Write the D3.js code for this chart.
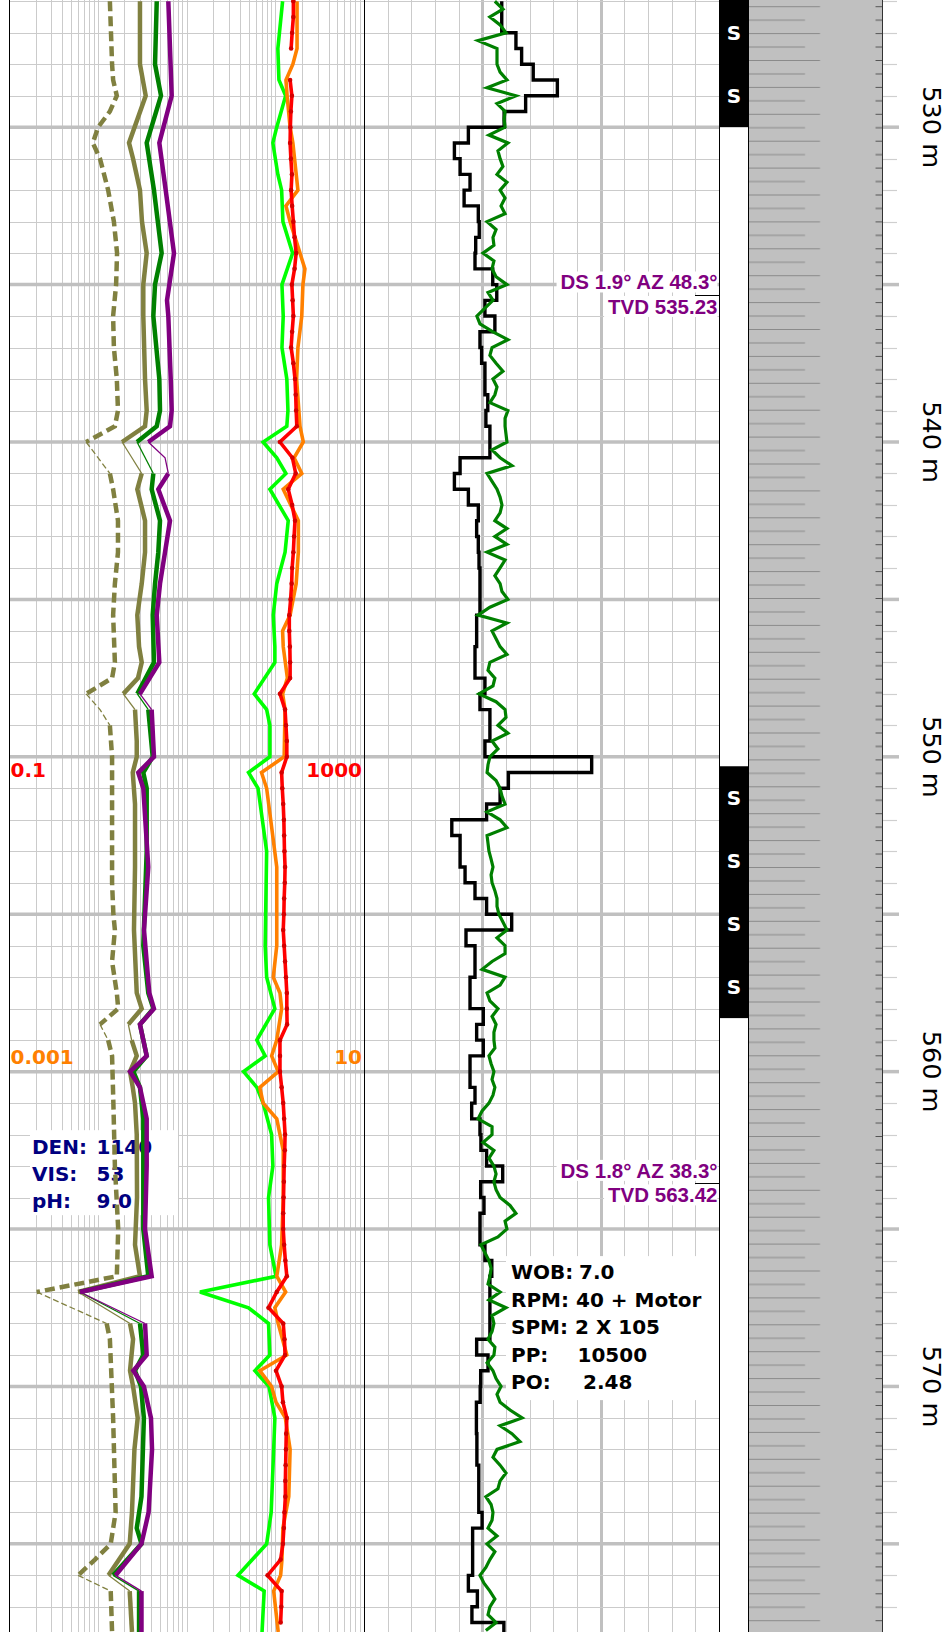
<!DOCTYPE html>
<html>
<head>
<meta charset="utf-8">
<script src="https://cdn.jsdelivr.net/npm/d3@7"></script>
<style>
html,body{margin:0;padding:0;background:#fff;}
svg{display:block;}
</style>
</head>
<body>
<script>
// ---------------- DATA ----------------
const depthStart = 525.96, depthEnd = 577.80;
const depthLabels = [530, 540, 550, 560, 570];
const logTrackDomain = [0.1, 1000];
const linTrackDomain = [0, 150];

// Track 1 gas curves: [depth (m), value]
const tgDashed = [[526.0,1.37],[527.0,1.41],[528.0,1.45],[528.5,1.49],[529.0,1.64],[529.5,1.37],[530.0,1.01],[530.5,0.88],[531.0,1.06],[532.0,1.31],[533.0,1.52],[534.0,1.65],[535.0,1.61],[536.0,1.49],[537.0,1.52],[538.0,1.64],[539.0,1.69],[539.5,1.56],[540.0,0.74],[541.0,1.37],[541.5,1.49],[542.5,1.69],[543.5,1.69],[544.5,1.56],[545.5,1.49],[547.0,1.56],[547.5,1.45],[548.0,0.74],[548.5,1.06],[549.0,1.37],[550.0,1.45],[552.0,1.45],[554.0,1.45],[555.0,1.50],[555.5,1.56],[556.5,1.45],[557.5,1.64],[558.0,1.70],[558.5,1.06],[559.0,1.31],[559.5,1.45],[561.0,1.50],[563.0,1.56],[565.0,1.70],[566.5,1.64],[567.0,0.205],[568.0,1.26],[568.5,1.37],[571.0,1.49],[574.0,1.59],[575.0,1.40],[575.5,0.93],[576.0,0.60],[576.5,1.40],[577.8,1.45]];
const tgSolid = [[526.0,2.99],[528.0,2.99],[529.0,3.47],[530.5,2.25],[531.0,2.50],[532.0,2.99],[533.0,3.15],[534.0,3.56],[535.0,3.26],[536.0,3.26],[538.0,3.41],[539.0,3.56],[539.5,3.41],[540.0,1.88],[541.0,3.13],[541.5,2.79],[542.5,3.41],[543.5,3.41],[544.5,3.13],[545.5,2.79],[546.5,2.92],[547.0,3.13],[547.5,2.84],[548.0,1.94],[548.5,2.63],[549.5,2.75],[550.0,2.75],[550.5,2.48],[551.5,2.63],[553.5,2.63],[555.5,2.56],[557.5,2.75],[558.0,3.13],[558.5,2.21],[559.0,2.41],[559.5,2.75],[560.0,2.31],[560.5,2.48],[561.0,2.63],[562.0,2.75],[564.0,2.77],[565.5,2.63],[566.5,2.99],[567.0,0.60],[568.0,2.31],[568.5,2.50],[569.5,2.31],[570.0,2.50],[571.0,2.82],[572.0,2.59],[574.0,2.43],[575.0,2.29],[576.0,1.32],[576.5,2.29],[577.8,2.43]];
const c1Green = [[526.0,4.62],[528.0,4.42],[529.0,5.16],[530.5,3.56],[532.0,4.30],[534.0,5.25],[535.0,4.42],[536.0,4.23],[538.0,4.94],[539.0,5.03],[539.5,4.62],[540.0,2.77],[541.0,4.23],[541.5,4.05],[542.5,5.03],[543.5,4.81],[544.5,4.42],[545.5,4.16],[547.0,4.30],[548.0,2.79],[548.5,3.71],[550.0,4.16],[550.5,3.26],[551.0,3.56],[553.0,3.56],[556.0,3.26],[557.5,3.71],[558.0,4.23],[558.5,2.99],[559.5,3.56],[560.0,2.52],[560.5,2.99],[561.5,3.26],[565.0,3.26],[566.5,3.71],[567.0,0.63],[568.0,2.99],[569.0,3.26],[569.5,2.63],[570.0,3.07],[571.0,3.31],[573.5,3.11],[574.5,2.75],[575.0,3.11],[576.0,1.49],[576.5,2.92],[577.8,2.92]];
const c2Purple = [[526.0,6.24],[529.0,6.81],[530.5,4.94],[532.0,5.83],[534.0,7.23],[535.5,6.03],[536.0,6.24],[538.0,6.64],[539.0,6.81],[539.5,6.52],[540.0,3.71],[540.5,5.73],[541.0,6.24],[541.5,4.81],[542.5,6.52],[543.5,5.73],[544.5,5.03],[545.5,4.62],[547.0,4.94],[548.0,2.99],[548.5,4.05],[550.0,4.30],[550.5,2.86],[551.0,3.26],[553.5,3.71],[555.5,3.32],[557.5,3.81],[558.0,4.30],[558.5,2.99],[559.5,3.56],[560.0,2.31],[560.5,2.99],[561.5,3.56],[563.0,3.56],[565.0,3.41],[566.5,4.05],[567.0,0.63],[568.0,3.41],[569.0,3.56],[569.5,2.52],[570.0,3.31],[571.0,3.98],[572.0,4.09],[574.0,3.74],[575.0,3.11],[576.0,1.59],[576.5,3.11],[577.8,3.11]];
const c3Lime = [[526.0,121],[527.5,107],[528.5,110],[529.0,131],[530.0,104],[530.5,94],[531.5,107],[532.0,118],[533.0,122],[534.0,157],[535.0,119],[536.0,123],[537.0,119],[538.0,135],[539.0,139],[539.5,135],[540.0,73],[540.5,104],[541.0,132],[541.5,87],[542.5,140],[543.5,129],[544.5,104],[545.5,95],[546.5,99],[547.0,99],[548.0,58],[548.5,80],[549.0,87],[550.0,87],[550.5,50],[551.0,64],[553.0,80],[556.0,77],[557.0,80],[558.0,99],[559.0,62],[559.5,77],[560.0,44],[560.5,62],[561.0,73],[562.0,91],[563.0,94],[564.0,84],[565.5,87],[566.5,102],[567.0,14.2],[567.5,50],[568.0,84],[569.0,87],[569.5,59],[570.0,85],[571.0,99],[572.0,96],[574.0,90],[575.0,80],[576.0,38],[576.5,75],[577.8,71]];
const c4Orange = [[526.0,176],[527.5,176],[528.0,158],[528.5,132],[529.0,136],[530.0,147],[530.5,158],[532.0,180],[532.5,132],[533.0,147],[534.0,190],[534.5,216],[535.0,205],[536.0,199],[537.0,180],[538.0,174],[539.5,190],[540.0,207],[540.5,163],[541.0,199],[541.5,123],[542.5,182],[543.5,182],[544.5,172],[545.5,147],[546.0,121],[546.5,123],[547.5,137],[548.0,121],[548.5,129],[550.0,126],[550.5,70],[551.0,80],[553.5,104],[556.0,104],[557.0,95],[557.5,113],[558.0,118],[559.0,104],[559.5,91],[560.0,108],[560.5,67],[561.0,73],[561.5,104],[562.5,123],[564.0,123],[565.5,118],[566.5,104],[567.0,131],[567.5,99],[568.0,108],[569.0,135],[569.5,67],[570.0,91],[570.5,102],[571.0,130],[572.0,147],[573.5,142],[574.5,122],[575.5,119],[576.0,115],[576.5,96],[577.8,108]];
const c5Red = [[526.0,160],[526.5,160],[527.0,155],[527.5,151],[528.0,null],[528.5,147],[529.0,154],[529.5,150],[530.0,148],[530.5,147],[531.0,150],[531.5,154],[532.0,151],[532.5,155],[533.0,160],[533.5,165],[534.0,172],[534.5,165],[535.0,154],[535.5,157],[536.0,160],[536.5,155],[537.0,151],[537.5,160],[538.0,167],[538.5,170],[539.0,172],[539.5,175],[540.0,113],[540.5,156],[541.0,170],[541.5,140],[542.0,155],[542.5,167],[543.0,163],[543.5,160],[544.0,155],[544.5,153],[545.0,149],[545.5,144],[546.0,144],[546.5,146],[547.0,147],[547.5,147],[548.0,113],[548.5,129],[549.0,132],[549.5,135],[550.0,135],[550.5,118],[551.0,120],[551.5,123],[552.0,125],[552.5,126],[553.0,127],[553.5,129],[554.0,128],[554.5,126],[555.0,125],[555.5,123],[556.0,126],[556.5,129],[557.0,132],[557.5,135],[558.0,135],[558.5,136],[559.0,113],[559.5,113],[560.0,113],[560.5,118],[561.0,123],[561.5,126],[562.0,129],[562.5,128],[563.0,126],[563.5,125],[564.0,124],[564.5,123],[565.0,123],[565.5,126],[566.0,130],[566.5,135],[567.0,104],[567.5,84],[568.0,123],[568.5,127],[569.0,129],[569.5,102],[570.0,118],[570.5,122],[571.0,135],[571.5,133],[572.0,132],[572.5,131],[573.0,130],[573.5,130],[574.0,127],[574.5,125],[575.0,122],[575.5,115],[576.0,82],[576.5,118],[577.0,117],[577.5,115]];
// depth intervals where the left-group curves are drawn thin
const thinIntervals = [[540.0,541.0],[548.0,549.0],[558.5,559.0],[567.0,568.0],[576.0,576.5]];

// Track 2: ROP (step, 0.5 m) and torque (0.25 m)
const ropStart = 526.0, ropStep = 0.5;
const ropValues = [58.2,58.2,64.2,66.6,71.5,81.7,68.3,59.2,44.1,38.2,
40.6,44.8,42.3,48.3,48.7,47.2,46.9,54.4,56.1,51.1,
55.3,49.0,49.7,51.1,51.1,52.3,51.5,53.2,53.2,40.6,
38.2,44.1,48.3,47.6,48.3,48.6,49.0,49.0,49.0,47.6,
47.6,46.9,46.9,51.1,49.0,53.2,53.2,51.1,96.2,61.0,
57.5,51.8,37.1,40.6,40.6,42.7,46.9,51.8,62.4,43.1,
46.9,46.9,44.8,44.8,50.4,47.6,50.4,44.8,44.8,46.9,
45.5,49.0,49.4,51.8,58.6,49.3,50.7,49.0,49.0,51.1,
54.0,53.2,53.2,53.2,53.2,47.6,52.4,49.3,49.1,47.5,
47.5,47.7,47.7,48.5,48.5,48.5,49.9,45.9,45.9,45.9,
44.1,47.9,45.6,59.1];
const torqueStart = 526.0, torqueStep = 0.25;
const torqueValues = [55.3,58.7,53.2,57.5,60.0,48.2,56.2,56.2,56.2,57.5,60.4,52.0,64.2,56.2,59.6,59.2,59.6,52.8,60.8,56.6,57.5,58.7,56.2,60.4,57.5,59.6,57.9,59.6,52.0,55.8,54.5,54.9,50.3,54.9,54.1,55.8,60.4,52.4,
54.5,51.1,47.7,49.0,54.5,60.8,54.1,53.2,55.8,58.7,54.5,56.2,55.3,53.2,60.8,59.6,59.6,60.0,60.4,54.1,57.5,62.5,52.0,54.1,56.2,57.5,58.3,57.5,55.3,60.4,55.3,60.4,52.0,59.6,57.5,55.3,57.5,58.3,60.8,53.2,48.2,60.4,54.1,55.8,57.5,60.4,53.2,52.4,55.3,54.5,48.6,
55.8,59.6,60.0,56.6,60.8,54.1,56.6,53.2,52.4,52.0,55.8,57.5,58.3,59.6,52.0,57.5,60.4,52.0,52.4,52.8,53.7,54.5,53.7,54.1,55.3,56.2,56.2,57.0,58.7,60.4,56.2,59.6,59.6,54.1,49.9,59.6,57.5,52.0,53.2,56.6,54.1,55.8,54.9,54.9,55.3,52.8,53.7,54.9,54.1,55.3,54.5,52.8,49.9,48.2,54.1,54.1,50.3,54.9,52.8,54.9,55.8,54.9,55.8,57.5,61.7,64.2,
59.6,60.4,56.6,49.4,51.1,52.8,53.7,53.2,52.4,57.5,52.8,60.0,54.1,54.9,54.1,52.4,55.3,54.9,52.0,54.5,55.8,57.9,
56.2,57.5,61.7,66.8,57.5,62.5,65.9,56.2,54.5,57.5,60.0,57.5,56.6,51.5,53.7,54.5,54.1,52.4,56.2,52.0,55.3,53.2,51.5,49.0,50.7,53.2,55.3,53.2,52.4,55.8,51.5];

// Track 3 sample intervals (S marks every 2 m)
const sampleIntervals = [[524.0,530.0],[550.3,558.3]];
const sampleMarkSpacing = 2;

// Surveys
const surveyMD = [535.33, 563.55];
const surveyDS = ["1.9", "1.8"];
const surveyAZ = ["48.3", "38.3"];
const surveyTVD = ["535.23", "563.42"];

// Mud and drilling parameter boxes
const mudDepth = 561.86;
const mudLabels = ["DEN:", "VIS:", "pH:"];
const mudValues = ["1140", "53", "9.0"];
const drillDepth = 565.86;
const drillLabels = ["WOB:", "RPM:", "SPM:", "PP:", "PO:"];
const drillValues = ["7.0", "40 + Motor", "2 X 105", "10500", "2.48"];

// scale captions in track 1
const scaleCaptionDepths = [550.65, 559.76];
const scaleCaptionLeft = ["0.1", "0.001"];
const scaleCaptionRight = ["1000", "10"];
const scaleCaptionColors = ["#ff0000", "#ff8000"];

// ---------------- LAYOUT ----------------
const W = 947, H = 1632;
const T1 = [9, 364], T2 = [364, 719], T3 = [719, 748], T4 = [748, 882.5];
const svg = d3.select("body").append("svg").attr("width", W).attr("height", H);
const y = d3.scaleLinear().domain([depthStart, depthEnd]).range([0, H]);
const x1 = d3.scaleLog().domain(logTrackDomain).range(T1);
const x2 = d3.scaleLinear().domain(linTrackDomain).range(T2);
const crisp = v => Math.round(v) + 0.5;
const SANS = "'DejaVu Sans', Verdana, sans-serif";

const gridColor = "#cbcbcb", heavyColor = "#c0c0c0";
const gGrid = svg.append("g");
// track 1 verticals (log)
const t1ticks = x1.ticks().filter(v => v > logTrackDomain[0] && v < logTrackDomain[1]);
gGrid.selectAll(null).data(t1ticks).enter().append("line")
  .attr("x1", d => crisp(x1(d))).attr("x2", d => crisp(x1(d)))
  .attr("y1", 0).attr("y2", H).attr("stroke", gridColor).attr("stroke-width", 1);
// track 2 verticals
const t2ticks = x2.ticks(15).filter(v => v > linTrackDomain[0] && v < linTrackDomain[1]);
gGrid.selectAll(null).data(t2ticks).enter().append("line")
  .attr("x1", d => crisp(x2(d))).attr("x2", d => crisp(x2(d)))
  .attr("y1", 0).attr("y2", H)
  .attr("stroke", d => d % 50 === 0 ? heavyColor : gridColor)
  .attr("stroke-width", d => d % 50 === 0 ? 3 : 1);
// horizontals
const gridDepths = d3.range(Math.ceil(depthStart), Math.floor(depthEnd) + 1);
gGrid.selectAll(null).data(gridDepths).enter().append("line")
  .attr("x1", T1[0]).attr("x2", T2[1])
  .attr("y1", d => d % 5 === 0 ? y(d) : crisp(y(d))).attr("y2", d => d % 5 === 0 ? y(d) : crisp(y(d)))
  .attr("stroke", d => d % 5 === 0 ? heavyColor : gridColor)
  .attr("stroke-width", d => d % 5 === 0 ? 3.5 : 1);

// ---------- Track 3 ----------
const gT3 = svg.append("g");
gT3.append("rect").attr("x", T3[0] + 0.5).attr("y", -2).attr("width", T3[1] - T3[0]).attr("height", H + 4)
  .attr("fill", "#fff").attr("stroke", "#000").attr("stroke-width", 1);
gT3.selectAll(null).data(sampleIntervals).enter().append("rect")
  .attr("x", T3[0]).attr("width", T3[1] - T3[0] + 0.5)
  .attr("y", d => y(d[0])).attr("height", d => y(d[1]) - y(d[0])).attr("fill", "#000");
const sMarks = [];
sampleIntervals.forEach(([a, b]) => {
  for (let d = a + sampleMarkSpacing / 2; d < b; d += sampleMarkSpacing) {
    if (y(d) > 12 && y(d) < H - 12) sMarks.push(d);
  }
});
gT3.selectAll(null).data(sMarks).enter().append("text")
  .attr("x", (T3[0] + T3[1]) / 2 + 0.5).attr("y", d => y(d) + 7)
  .attr("text-anchor", "middle").attr("fill", "#fff")
  .attr("font-family", SANS).attr("font-weight", "bold").attr("font-size", 20)
  .text("S");

// ---------- Track 4 (lithology, grey with dashes) ----------
const defs = svg.append("defs");
const patH = 26.9, patW = T4[1] - T4[0];
const pat = defs.append("pattern").attr("id", "lith").attr("patternUnits", "userSpaceOnUse")
  .attr("x", T4[0]).attr("y", 6.2).attr("width", patW).attr("height", patH);
pat.append("rect").attr("width", patW).attr("height", patH).attr("fill", "#c0c0c0");
pat.append("line").attr("x1", 0).attr("x2", 72).attr("y1", 0.5).attr("y2", 0.5).attr("stroke", "#8a8a8a").attr("stroke-width", 1);
pat.append("line").attr("x1", 0).attr("x2", 57).attr("y1", patH / 2 + 0.5).attr("y2", patH / 2 + 0.5).attr("stroke", "#8a8a8a").attr("stroke-width", 1);
pat.append("line").attr("x1", patW - 7).attr("x2", patW).attr("y1", 0.5).attr("y2", 0.5).attr("stroke", "#555").attr("stroke-width", 1);
pat.append("line").attr("x1", patW - 7).attr("x2", patW).attr("y1", patH / 2 + 0.5).attr("y2", patH / 2 + 0.5).attr("stroke", "#555").attr("stroke-width", 1);
svg.append("rect").attr("x", T4[0]).attr("y", 0).attr("width", patW).attr("height", H).attr("fill", "url(#lith)");

// ---------- Depth track ----------
const gDepth = svg.append("g");
gDepth.selectAll(null).data(gridDepths).enter().append("line")
  .attr("x1", T4[1]).attr("x2", d => d % 5 === 0 ? 899 : 897)
  .attr("y1", d => d % 5 === 0 ? y(d) : crisp(y(d))).attr("y2", d => d % 5 === 0 ? y(d) : crisp(y(d)))
  .attr("stroke", d => d % 5 === 0 ? heavyColor : "#cfcfcf")
  .attr("stroke-width", d => d % 5 === 0 ? 3.5 : 1.2);
gDepth.selectAll(null).data(depthLabels).enter().append("text")
  .attr("transform", d => `translate(923,${y(d)}) rotate(90)`)
  .attr("text-anchor", "middle").attr("fill", "#000")
  .attr("font-family", SANS).attr("font-size", 25.5)
  .text(d => `${d} m`);

// ---------- Annotations ----------
const gAnn = svg.append("g");
// surveys
surveyMD.forEach((md, i) => {
  const yy = y(md);
  const lines = [`DS ${surveyDS[i]}° AZ ${surveyAZ[i]}°`, `TVD ${surveyTVD[i]}`];
  const offs = [-5.5, 19];
  lines.forEach((t, j) => {
    const g = gAnn.append("g");
    const r = g.append("rect").attr("fill", "#fff");
    const tx = g.append("text").attr("x", T2[1] - 1.5).attr("y", yy + offs[j])
      .attr("text-anchor", "end").attr("fill", "#800080")
      .attr("font-family", "'Liberation Sans', Arial, sans-serif").attr("font-weight", "bold").attr("font-size", 20.5)
      .text(t);
    const bb = tx.node().getBBox();
    r.attr("x", bb.x - 4).attr("y", bb.y + 1).attr("width", bb.width + 4).attr("height", bb.height - 2);
  });
  gAnn.append("line").attr("x1", 695).attr("x2", T2[1]).attr("y1", crisp(yy)).attr("y2", crisp(yy))
    .attr("stroke", "#000").attr("stroke-width", 1);
});
// mud box
{
  const top = y(mudDepth);
  gAnn.append("rect").attr("x", 30).attr("y", top).attr("width", 148).attr("height", 85).attr("fill", "#fff");
  mudLabels.forEach((l, i) => {
    const base = top + 24 + i * 27;
    gAnn.append("text").attr("x", 32).attr("y", base).attr("fill", "#000080")
      .attr("font-family", SANS).attr("font-weight", "bold").attr("font-size", 20).text(l);
    gAnn.append("text").attr("x", 96.5).attr("y", base).attr("fill", "#000080")
      .attr("font-family", SANS).attr("font-weight", "bold").attr("font-size", 20).text(mudValues[i]);
  });
}
// drilling parameters box
{
  const top = y(drillDepth);
  const valX = [579, 576, 575, 577.5, 583];
  gAnn.append("rect").attr("x", 506).attr("y", top).attr("width", T2[1] - 506).attr("height", 144).attr("fill", "#fff");
  drillLabels.forEach((l, i) => {
    const base = top + 23 + i * 27.5;
    gAnn.append("text").attr("x", 511).attr("y", base).attr("fill", "#000")
      .attr("font-family", SANS).attr("font-weight", "bold").attr("font-size", 20).text(l);
    gAnn.append("text").attr("x", valX[i]).attr("y", base).attr("fill", "#000")
      .attr("font-family", SANS).attr("font-weight", "bold").attr("font-size", 20).text(drillValues[i]);
  });
}
// scale captions
scaleCaptionDepths.forEach((d, i) => {
  const base = y(d);
  gAnn.append("text").attr("x", T1[0] + 1.5).attr("y", base).attr("fill", scaleCaptionColors[i])
    .attr("font-family", SANS).attr("font-weight", "bold").attr("font-size", 20).text(scaleCaptionLeft[i]);
  gAnn.append("text").attr("x", T1[1] - 2).attr("y", base).attr("text-anchor", "end").attr("fill", scaleCaptionColors[i])
    .attr("font-family", SANS).attr("font-weight", "bold").attr("font-size", 20).text(scaleCaptionRight[i]);
});

// ---------- Curves track 1 ----------
const gC = svg.append("g");
const isThinSeg = (a, b) => thinIntervals.some(([s, e]) => a[0] >= s - 1e-6 && b[0] <= e + 1e-6);
function drawCurve(data, xs, o) {
  const line = d3.line().defined(d => d[1] != null).x(d => xs(d[1])).y(d => y(d[0]));
  const style = (p, thin) => p.attr("fill", "none").attr("stroke", o.color)
    .attr("stroke-width", thin ? 1.3 : o.width)
    .attr("stroke-dasharray", o.dash ? (thin ? "6,3" : o.dash) : null)
    .attr("stroke-linejoin", "miter").attr("stroke-miterlimit", 3);
  if (!o.thin) { style(gC.append("path").attr("d", line(data)), false); }
  else {
    const runs = []; let cur = [data[0]]; let curThin = null;
    for (let i = 1; i < data.length; i++) {
      const t = isThinSeg(data[i - 1], data[i]);
      if (curThin === null) curThin = t;
      if (t !== curThin) { runs.push({ pts: cur, thin: curThin }); cur = [data[i - 1]]; curThin = t; }
      cur.push(data[i]);
    }
    runs.push({ pts: cur, thin: curThin });
    runs.forEach(r => style(gC.append("path").attr("d", line(r.pts)), r.thin));
  }
  if (o.dots) {
    gC.selectAll(null).data(data.filter(d => d[1] != null)).enter().append("circle")
      .attr("cx", d => xs(d[1])).attr("cy", d => y(d[0])).attr("r", 2.3).attr("fill", "#d40000");
  }
}
drawCurve(tgDashed, x1, { color: "#808040", width: 4.5, dash: "10,5", thin: true });
drawCurve(tgSolid, x1, { color: "#808040", width: 4.5, thin: true });
drawCurve(c1Green, x1, { color: "#008000", width: 4.5, thin: true });
drawCurve(c2Purple, x1, { color: "#800080", width: 4.5, thin: true });
drawCurve(c3Lime, x1, { color: "#00ff00", width: 3.6 });
drawCurve(c4Orange, x1, { color: "#ff8000", width: 3.6 });
drawCurve(c5Red, x1, { color: "#ff0000", width: 3.6, dots: true });

// ---------- Curves track 2 ----------
const ropPts = ropValues.map((v, i) => [ropStart + i * ropStep, v]);
ropPts.push([ropStart + ropValues.length * ropStep, ropValues[ropValues.length - 1]]);
gC.append("path")
  .attr("d", d3.line().curve(d3.curveStepBefore).x(d => x2(d[1])).y(d => y(d[0]))(ropPts))
  .attr("fill", "none").attr("stroke", "#000").attr("stroke-width", 3.4);
const torquePts = torqueValues.map((v, i) => [torqueStart + i * torqueStep, v]);
gC.append("path")
  .attr("d", d3.line().x(d => x2(d[1])).y(d => y(d[0]))(torquePts))
  .attr("fill", "none").attr("stroke", "#008000").attr("stroke-width", 3.2).attr("stroke-linejoin", "miter");

// ---------- Borders ----------
const borders = [T1[0], T2[0], T2[1], T3[1], T4[1]];
svg.append("g").selectAll(null).data(borders).enter().append("line")
  .attr("x1", d => Math.floor(d) + 0.5).attr("x2", d => Math.floor(d) + 0.5)
  .attr("y1", 0).attr("y2", H).attr("stroke", d => d === T4[1] ? "#333" : "#000").attr("stroke-width", 1);
</script>
</body>
</html>
